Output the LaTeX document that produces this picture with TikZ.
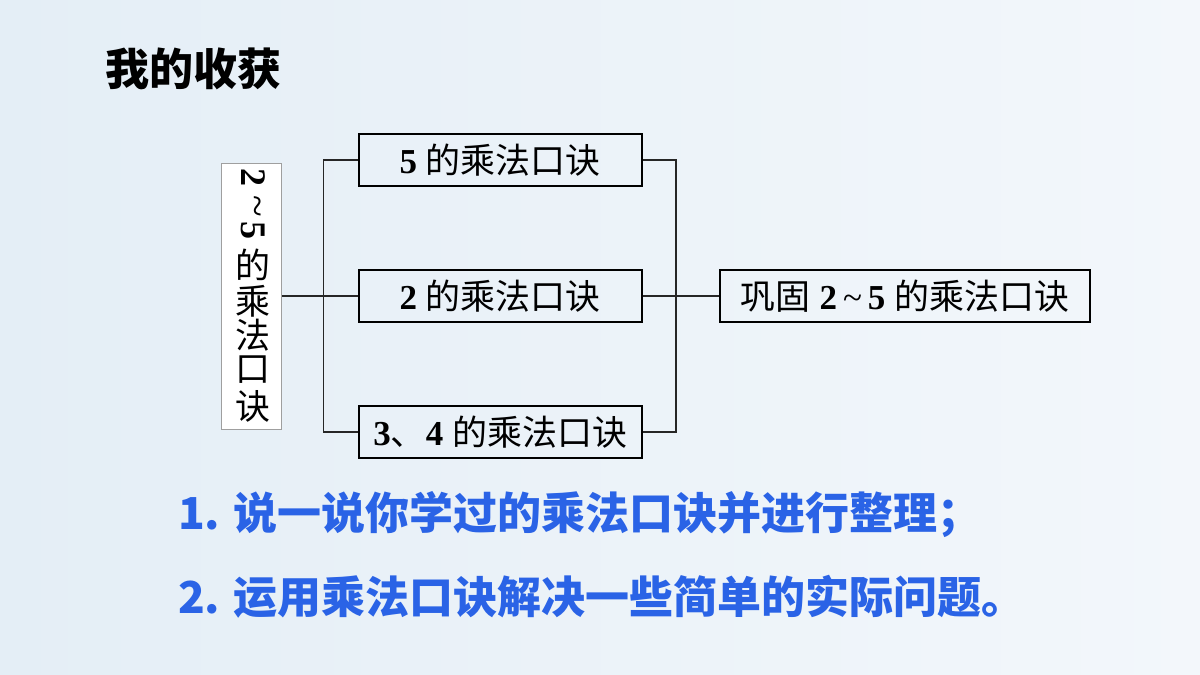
\documentclass[tikz,border=0pt]{standalone}
\usepackage{fontspec}
\setmainfont{Liberation Serif}
\newfontfamily\cjk{Noto Sans CJK SC}
\newcommand\zh[1]{{\cjk #1}}
\definecolor{bgL}{HTML}{E4EEF6}
\definecolor{bgR}{HTML}{F3F7FB}
\definecolor{tblue}{HTML}{2A63E6}
\begin{document}
\begin{tikzpicture}[x=1pt,y=-1pt,
  box/.style={draw=black, line width=2.2pt, minimum width=283pt, minimum height=52pt, inner sep=0pt, font=\fontsize{35}{38}\selectfont},
  link/.style={line width=1.5pt, draw=black!85},
  vchar/.style={inner sep=0pt, font=\fontsize{35}{38}\selectfont},
  bluetext/.style={inner sep=0pt, anchor=west, text=tblue, font=\cjk\bfseries\fontsize{44}{50}\selectfont}
]
\shade[left color=bgL, right color=bgR] (0,0) rectangle (1200,675);
\useasboundingbox (0,0) rectangle (1200,675);

% title
\node[inner sep=0pt, anchor=west, font=\cjk\bfseries\fontsize{44}{50}\selectfont] (title) at (105,69) {我的收获};

% left vertical box
\node[draw=gray!75, fill=white, line width=0.8pt, minimum width=60pt, minimum height=266pt, inner sep=0pt] (left) at (251.7,296) {};
\node[vchar] (v1) at (253,177) {\rotatebox{-90}{\fontsize{36}{38}\selectfont\textbf{2}}};
\node[vchar] (v2) at (253,206) {\rotatebox{-90}{\fontsize{40}{40}\selectfont\textasciitilde}};
\node[vchar] (v3) at (253,230) {\rotatebox{-90}{\fontsize{36}{38}\selectfont\textbf{5}}};
\node[vchar] (v4) at (253,265) {\zh{的}};
\node[vchar] (v5) at (253,301) {\zh{乘}};
\node[vchar] (v6) at (253,335) {\zh{法}};
\node[vchar] (v7) at (253,370) {\zh{口}};
\node[vchar] (v8) at (253,406) {\zh{诀}};

% middle boxes
\node[box] (top) at (500.3,160) {\textbf{5} \zh{的乘法口诀}};
\node[box] (mid) at (500.3,296) {\textbf{2} \zh{的乘法口诀}};
\node[box] (bot) at (500.3,432) {\textbf{3}\zh{、}\textbf{4} \zh{的乘法口诀}};

% right box
\node[box, minimum width=370pt] (right) at (905,296) {\zh{巩固} \textbf{2}\,\textasciitilde\,\textbf{5} \zh{的乘法口诀}};

% connectors
\coordinate (lb) at (323.3,296);
\coordinate (rb) at (676,296);
\draw[link] (left.east) -- (mid.west);
\draw[link] (top.west) -| (lb) |- (bot.west);
\draw[link] (top.east) -| (rb) |- (bot.east);
\draw[link] (mid.east) -- (right.west);

% blue lines
\node[bluetext] (l1) at (178,515) {1. 说一说你学过的乘法口诀并进行整理；};
\node[bluetext] (l2) at (178,597) {2. 运用乘法口诀解决一些简单的实际问题。};
\end{tikzpicture}
\end{document}
